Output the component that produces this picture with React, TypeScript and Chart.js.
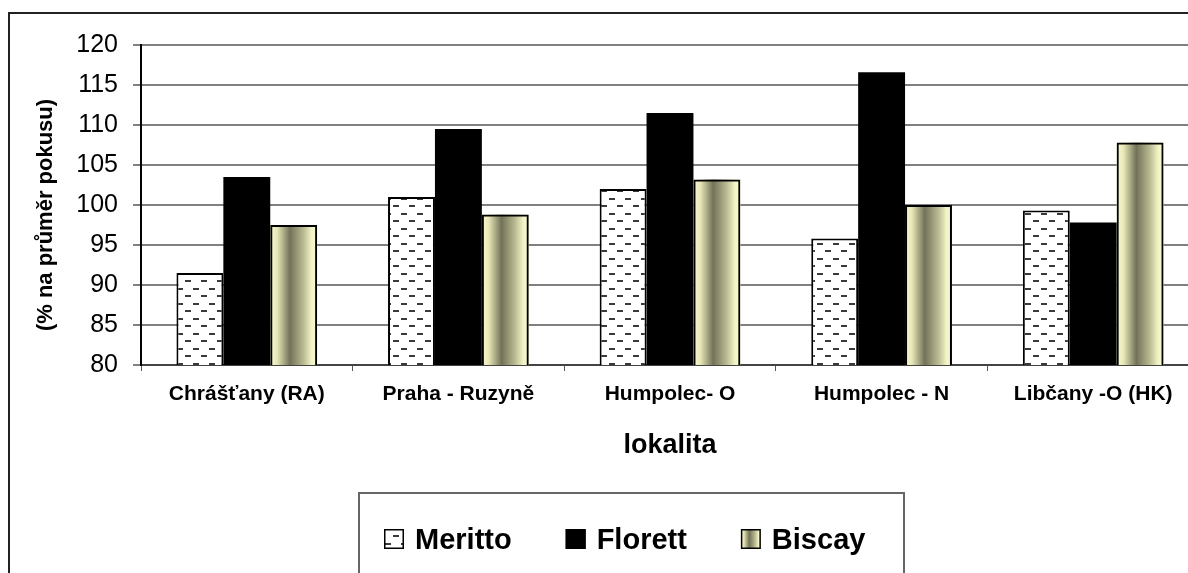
import React, { useEffect, useRef } from 'react';
import { Chart, registerables } from 'chart.js';

Chart.register(...registerables);

const categories = ['Chrášťany (RA)', 'Praha - Ruzyně', 'Humpolec- O', 'Humpolec - N', 'Libčany -O (HK)'];
const seriesNames = ['Meritto', 'Florett', 'Biscay'];
const merittoValues = [91.5, 101.0, 102.0, 95.8, 99.3];
const florettValues = [103.5, 109.5, 111.5, 116.6, 97.8];
const biscayValues = [97.5, 98.8, 103.2, 100.0, 107.8];
const yTickValues = [80, 85, 90, 95, 100, 105, 110, 115, 120];
const xAxisTitle = 'lokalita';
const yAxisTitle = '(% na průměr pokusu)';

const FONT = "'Liberation Sans', Arial, Helvetica, sans-serif";

function makeDashPattern(ctx: CanvasRenderingContext2D): CanvasPattern {
  const c = document.createElement('canvas');
  c.width = 16;
  c.height = 15;
  const g = c.getContext('2d')!;
  g.fillStyle = '#ffffff';
  g.fillRect(0, 0, 16, 15);
  g.fillStyle = '#3a3a3a';
  g.fillRect(1, 3, 6, 2);
  g.fillRect(9, 10, 6, 2);
  return ctx.createPattern(c, 'repeat')!;
}

function biscayGradient(ctx: CanvasRenderingContext2D, left: number, width: number) {
  const g = ctx.createLinearGradient(left, 0, left + width, 0);
  g.addColorStop(0, '#fbfbd2');
  g.addColorStop(0.15, '#e6e6b6');
  g.addColorStop(0.42, '#727259');
  g.addColorStop(0.7, '#b8b890');
  g.addColorStop(0.88, '#f2f2c6');
  g.addColorStop(1, '#fbfbd2');
  return g;
}

export default function App() {
  const ref = useRef<HTMLCanvasElement>(null);

  useEffect(() => {
    const canvas = ref.current!;
    const ctx = canvas.getContext('2d')!;
    const pattern = makeDashPattern(ctx);

    const gradientPlugin = {
      id: 'biscayGradient',
      beforeDatasetsDraw(chart: any) {
        const meta = chart.getDatasetMeta(2);
        const area = chart.chartArea;
        const c = chart.ctx as CanvasRenderingContext2D;
        c.save();
        c.beginPath();
        c.rect(area.left, area.top, area.right - area.left, area.bottom - area.top);
        c.clip();
        meta.data.forEach((el: any) => {
          const { x, y, base, width } = el.getProps(['x', 'y', 'base', 'width'], true);
          const left = x - width / 2;
          const bottom = Math.min(base, area.bottom);
          c.fillStyle = biscayGradient(c, left, width);
          c.fillRect(left, y, width, bottom - y);
        });
        c.restore();
      },
    };

    const decorPlugin = {
      id: 'decor',
      afterDraw(chart: any) {
        const c = chart.ctx as CanvasRenderingContext2D;
        c.save();
        // outer frame
        c.strokeStyle = '#222222';
        c.lineWidth = 2;
        c.beginPath();
        c.moveTo(9, 700);
        c.lineTo(9, 13);
        c.lineTo(1400, 13);
        c.stroke();

        // y axis title
        c.save();
        c.translate(46, 215);
        c.rotate(-Math.PI / 2);
        c.font = `bold 22px ${FONT}`;
        c.fillStyle = '#000';
        c.textAlign = 'center';
        c.textBaseline = 'middle';
        c.fillText(yAxisTitle, 0, 0);
        c.restore();

        // legend box
        c.strokeStyle = '#666666';
        c.lineWidth = 2;
        c.strokeRect(359, 493, 545, 300);

        c.font = `bold 29px ${FONT}`;
        c.textAlign = 'left';
        c.textBaseline = 'alphabetic';
        let x = 384;
        const top = 529;
        const size = 20;
        seriesNames.forEach((name, i) => {
          if (i === 0) {
            c.fillStyle = pattern;
          } else if (i === 1) {
            c.fillStyle = '#000';
          } else {
            c.fillStyle = biscayGradient(c, x, size);
          }
          c.fillRect(x, top, size, size);
          c.strokeStyle = '#000';
          c.lineWidth = 1.5;
          c.strokeRect(x + 0.75, top + 0.75, size - 1.5, size - 1.5);
          c.fillStyle = '#000';
          c.fillText(name, x + 31, 549);
          x += 31 + c.measureText(name).width + 54;
        });
        c.restore();
      },
    };

    const chart = new Chart(canvas, {
      type: 'bar',
      data: {
        labels: categories,
        datasets: [
          {
            label: seriesNames[0],
            data: merittoValues,
            backgroundColor: pattern as any,
            borderColor: '#000',
            borderWidth: 2,
            categoryPercentage: 0.665,
            barPercentage: 1,
          },
          {
            label: seriesNames[1],
            data: florettValues,
            backgroundColor: '#000',
            borderColor: '#000',
            borderWidth: 0,
            categoryPercentage: 0.665,
            barPercentage: 1,
          },
          {
            label: seriesNames[2],
            data: biscayValues,
            backgroundColor: 'rgba(0,0,0,0)',
            borderColor: '#000',
            borderWidth: 2,
            categoryPercentage: 0.665,
            barPercentage: 1,
          },
        ],
      },
      options: {
        responsive: false,
        animation: false,
        devicePixelRatio: 1,
        layout: { padding: { left: 0, top: 45, right: 11, bottom: 0 } },
        plugins: {
          legend: { display: false },
          tooltip: { enabled: false },
          title: { display: false },
        },
        scales: {
          x: {
            offset: true,
            grid: {
              display: true,
              offset: true,
              drawOnChartArea: false,
              drawTicks: true,
              tickLength: 6,
              color: '#555555',
              lineWidth: 1,
            },
            border: { display: true, color: '#444444', width: 2 },
            ticks: {
              color: '#000',
              font: { family: FONT, size: 21, weight: 'bold' },
              padding: 11,
              maxRotation: 0,
              autoSkip: false,
            },
            title: {
              display: true,
              text: xAxisTitle,
              color: '#000',
              font: { family: FONT, size: 27, weight: 'bold' },
              padding: { top: 0, bottom: 111 },
            },
            afterFit: (s: any) => {
              s.height = 208;
            },
          },
          y: {
            min: 80,
            max: 120,
            afterBuildTicks: (s: any) => {
              s.ticks = yTickValues.map((v) => ({ value: v }));
            },
            ticks: {
              color: '#000',
              font: { family: FONT, size: 25 },
              padding: 15,
            },
            grid: {
              color: '#808080',
              lineWidth: 2,
              drawTicks: true,
              tickLength: 8,
            },
            border: { display: true, color: '#000', width: 2 },
            afterFit: (s: any) => {
              s.width = 141;
            },
          },
        },
      },
      plugins: [gradientPlugin, decorPlugin],
    });

    return () => chart.destroy();
  }, []);

  return (
    <div
      style={{
        position: 'fixed',
        left: 0,
        top: 0,
        width: 1188,
        height: 573,
        overflow: 'hidden',
        background: '#ffffff',
      }}
    >
      <canvas ref={ref} width={1210} height={573} style={{ display: 'block', width: 1210, height: 573 }} />
    </div>
  );
}
